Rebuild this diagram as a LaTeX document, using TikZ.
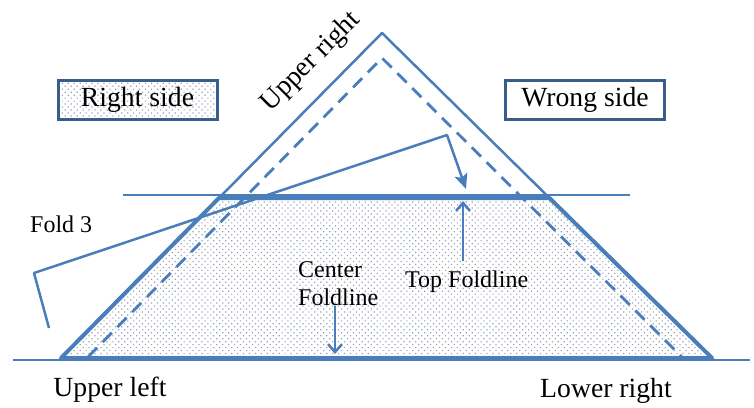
\documentclass[tikz,border=0pt]{standalone}
\usepackage{fontspec}
\setmainfont{Liberation Serif}
\usetikzlibrary{arrows.meta,patterns.meta}
\definecolor{lineblue}{HTML}{4A7EBB}
\definecolor{boxblue}{HTML}{385D8A}
\definecolor{dotcol}{HTML}{96A1B6}
\tikzset{
  dotfill/.style={pattern={Dots[distance=4.2pt,radius=0.85pt,angle=45]},pattern color=dotcol},
  biglabel/.style={font=\fontsize{27.7}{30}\selectfont,inner sep=0pt},
  smalllabel/.style={font=\fontsize{24}{26}\selectfont,inner sep=0pt},
  sidebox/.style={draw=boxblue,line width=3pt,minimum width=159pt,minimum height=39pt,inner sep=0pt,font=\fontsize{27.7}{30}\selectfont},
  guide/.style={draw=lineblue,line width=1.4pt},
  thinedge/.style={draw=lineblue,line width=2.5pt,line join=round},
  thickedge/.style={draw=lineblue,line width=4pt,line join=round},
  dashedge/.style={draw=lineblue,line width=2.8pt,dash pattern=on 13pt off 8pt,line join=round},
  pointer/.style={draw=lineblue,line width=2.5pt,line join=round},
}
\begin{document}
\begin{tikzpicture}[x=1pt,y=-1pt]
\useasboundingbox (0,0) rectangle (754,407);
% key points
\coordinate (A) at (382,33);
\coordinate (L) at (61,358);
\coordinate (R) at (712,358);
\coordinate (TL) at (219,198);
\coordinate (TR) at (549.5,198);
\coordinate (DA) at (382,58);
\coordinate (DL) at (88,357);
\coordinate (DR) at (682,357);
\coordinate (g1) at (123,195);
\coordinate (g2) at (630,195);
\coordinate (b1) at (13,360);
\coordinate (b2) at (750,360);
% trapezoid fill
\fill[white] (L) -- (TL) -- (TR) -- (R) -- cycle;
\path[dotfill] (L) -- (TL) -- (TR) -- (R) -- cycle;
% guide lines
\draw[guide] (g1) -- (g2);
\draw[guide] (b1) -- (b2);
% triangle top part
\draw[thinedge] (TL) -- (A) -- (TR);
% trapezoid outline
\draw[thickedge] (L) -- (TL) -- (TR) -- (R) -- cycle;
% dashed inner triangle
\draw[dashedge] (DL) -- (DA) -- (DR);
% Fold 3 pointer
\coordinate (f0) at (49,328);
\coordinate (f1) at (34,273);
\coordinate (f2) at (447,135);
\coordinate (f3) at (466,189);
\draw[pointer,-{Stealth[length=15pt,width=13pt,inset=3pt]}] (f0) -- (f1) -- (f2) -- (f3);
% Top foldline arrow
\coordinate (t0) at (463,261);
\coordinate (t1) at (463,201);
\draw[pointer,-{Straight Barb[length=8pt,width=14pt]}] (t0) -- (t1);
% Center foldline arrow
\coordinate (c0) at (335,306);
\coordinate (c1) at (335,354);
\draw[pointer,-{Straight Barb[length=8pt,width=14pt]}] (c0) -- (c1);
% boxes
\node[sidebox,dotfill] (rs) at (137.5,99.5) {Right side};
\node[sidebox,fill=white] (ws) at (585,100) {Wrong side};
% labels
\node[biglabel,rotate=45] (ur) at (311,62) {Upper right};
\node[biglabel,anchor=base] (ul) at (110,396) {Upper left};
\node[biglabel,anchor=base] (lr) at (606,397) {Lower right};
\node[smalllabel,anchor=base west] (f3l) at (30,232) {Fold 3};
\node[smalllabel,anchor=base west] (cl1) at (298,277) {Center};
\node[smalllabel,anchor=base west] (cl2) at (298,305) {Foldline};
\node[smalllabel,anchor=base west] (tl) at (405,287) {Top Foldline};
\end{tikzpicture}
\end{document}
